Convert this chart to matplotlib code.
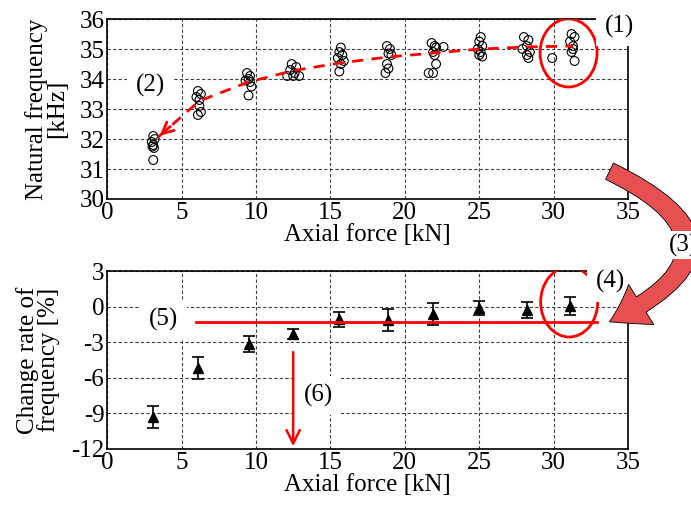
import numpy as np
import matplotlib
matplotlib.use("Agg")
import matplotlib.pyplot as plt
from matplotlib.patches import Ellipse, FancyArrowPatch

plt.rcParams['font.family'] = ['Liberation Serif', 'DejaVu Serif']
plt.rcParams['font.size'] = 18
plt.rcParams['axes.unicode_minus'] = False

# Natural frequency measured at each axial force (kN, kHz)
force_pts = [3.1, 3.2, 3.0, 3.1, 3.05, 3.15, 3.1,
             6.1, 6.3, 6.0, 6.2, 6.2, 6.3, 6.1,
             9.4, 9.6, 9.5, 9.3, 9.6, 9.7, 9.5,
             12.4, 12.7, 12.3, 12.6, 12.1, 12.5, 12.9,
             15.7, 15.6, 15.8, 15.5, 15.9, 15.7, 15.6,
             18.8, 19.0, 18.9, 19.1, 18.8, 18.9, 18.7,
             21.8, 22.0, 22.1, 21.9, 22.0, 22.1, 21.6, 21.9, 22.6,
             25.1, 25.0, 25.2, 24.9, 25.1, 25.0, 25.2,
             28.0, 28.3, 28.2, 27.9, 28.4, 28.2, 28.3, 29.9,
             31.2, 31.4, 31.1, 31.3, 31.3, 31.2, 31.4]
freq_pts = [32.1, 32.0, 31.9, 31.8, 31.75, 31.7, 31.3,
            33.6, 33.5, 33.4, 33.3, 33.1, 32.9, 32.8,
            34.2, 34.1, 34.0, 33.95, 33.9, 33.75, 33.45,
            34.5, 34.4, 34.3, 34.2, 34.1, 34.1, 34.1,
            35.05, 34.9, 34.8, 34.7, 34.6, 34.5, 34.25,
            35.1, 35.0, 34.85, 34.8, 34.5, 34.35, 34.2,
            35.2, 35.1, 35.05, 34.9, 34.8, 34.5, 34.2, 34.2, 35.07,
            35.4, 35.25, 35.1, 35.0, 34.9, 34.8, 34.75,
            35.4, 35.3, 35.1, 35.0, 34.9, 34.8, 34.7, 34.7,
            35.5, 35.4, 35.25, 35.1, 35.0, 34.9, 34.6]

# trend curve (red dashed)
trend_x = [3.4, 6.2, 9.5, 12.5, 15.6, 18.8, 22.0, 25.1, 28.2, 31.3]
trend_y = [32.05, 33.27, 33.9, 34.28, 34.53, 34.73, 34.87, 35.0, 35.07, 35.1]

# change rate of frequency (%)
force_levels = [3.1, 6.1, 9.5, 12.5, 15.6, 18.9, 21.9, 25.0, 28.2, 31.1]
rate = [-9.3, -5.2, -3.15, -2.3, -1.05, -1.1, -0.6, -0.1, -0.3, 0.05]
rate_err = [0.93, 0.93, 0.67, 0.42, 0.63, 0.92, 0.92, 0.6, 0.67, 0.75]
threshold = -1.3

fig = plt.figure(figsize=(6.91, 5.07), dpi=100)
ax1 = fig.add_axes([0.155, 0.6075, 0.754, 0.355])
ax2 = fig.add_axes([0.155, 0.1144, 0.754, 0.351])

grid_kw = dict(color='0.25', linestyle=(0, (3, 2)), linewidth=0.8)
box = dict(facecolor='white', edgecolor='none', pad=6)

# top panel
ax1.scatter(force_pts, freq_pts, s=40, facecolors='none', edgecolors='black',
            linewidths=0.8, zorder=3)
ax1.plot(trend_x, trend_y, color='red', lw=2, linestyle=(0, (4, 3)), zorder=4)
# arrow head at the low-force end of the trend
hx = trend_x[0] + 0.35 * (trend_x[1] - trend_x[0])
hy = trend_y[0] + 0.35 * (trend_y[1] - trend_y[0])
ax1.annotate('', xy=(trend_x[0], trend_y[0]), xytext=(hx, hy),
             arrowprops=dict(arrowstyle='->', color='red', lw=2, mutation_scale=20), zorder=4)
ax1.add_patch(Ellipse((31.0, 34.87), 3.83, 2.27, fill=False, edgecolor='red', lw=2, zorder=5))
ax1.set_xlim(0, 35)
ax1.set_ylim(30, 36)
ax1.set_xticks(np.arange(0, 36, 5))
ax1.set_yticks(np.arange(30, 37, 1))
ax1.grid(True, **grid_kw)
ax1.set_xlabel('Axial force [kN]', labelpad=0)
ax1.set_ylabel('Natural frequency\n[kHz]', labelpad=8, linespacing=0.9)
ax1.text(2.9, 33.8, '(2)', ha='center', va='center', bbox=box, zorder=6)
ax1.text(34.4, 35.75, '(1)', ha='center', va='center', bbox=box, zorder=6, clip_on=False)

# bottom panel
ax2.errorbar(force_levels, rate, yerr=rate_err, fmt='^', color='black',
             markersize=7, capsize=4, elinewidth=1.2, capthick=1.2, zorder=3)
ax2.plot([6.0, 32.9], [threshold, threshold], color='red', lw=2, zorder=4)
ax2.annotate('', xy=(12.5, -12), xytext=(12.5, -3.6),
             arrowprops=dict(arrowstyle='->', color='red', lw=1.8, mutation_scale=24), zorder=4)
ax2.add_patch(Ellipse((31.04, 0.39), 3.83, 5.9, fill=False, edgecolor='red', lw=2, zorder=5))
ax2.set_xlim(0, 35)
ax2.set_ylim(-12, 3)
ax2.set_xticks(np.arange(0, 36, 5))
ax2.set_yticks(np.arange(-12, 4, 3))
ax2.grid(True, **grid_kw)
ax2.set_xlabel('Axial force [kN]', labelpad=0)
ax2.set_ylabel('Change rate of\nfrequency [%]', labelpad=8, linespacing=0.9)
ax2.text(3.8, -1.1, '(5)', ha='center', va='center', bbox=box, zorder=6)
ax2.text(14.2, -7.5, '(6)', ha='center', va='center', bbox=box, zorder=6)
ax2.text(33.8, 2.1, '(4)', ha='center', va='center', bbox=box, zorder=6, clip_on=False)

for ax in (ax1, ax2):
    ax.tick_params(direction='in', length=0, pad=2)
    for sp in ax.spines.values():
        sp.set_linewidth(1.2)

# big curved arrow (3)
arrow = FancyArrowPatch((607 / 691, 337 / 507), (607 / 691, 184 / 507),
                        transform=fig.transFigure,
                        connectionstyle='arc3,rad=-1.05',
                        arrowstyle='simple,head_length=26,head_width=34,tail_width=13',
                        mutation_scale=1, facecolor='#e65050', edgecolor='black',
                        lw=0.6, zorder=10)
fig.add_artist(arrow)
fig.text(684 / 691, 1 - 245 / 507, '(3)', ha='center', va='center',
         bbox=dict(facecolor='white', edgecolor='none', pad=2), zorder=11)

fig.savefig('out.png', dpi=100)
